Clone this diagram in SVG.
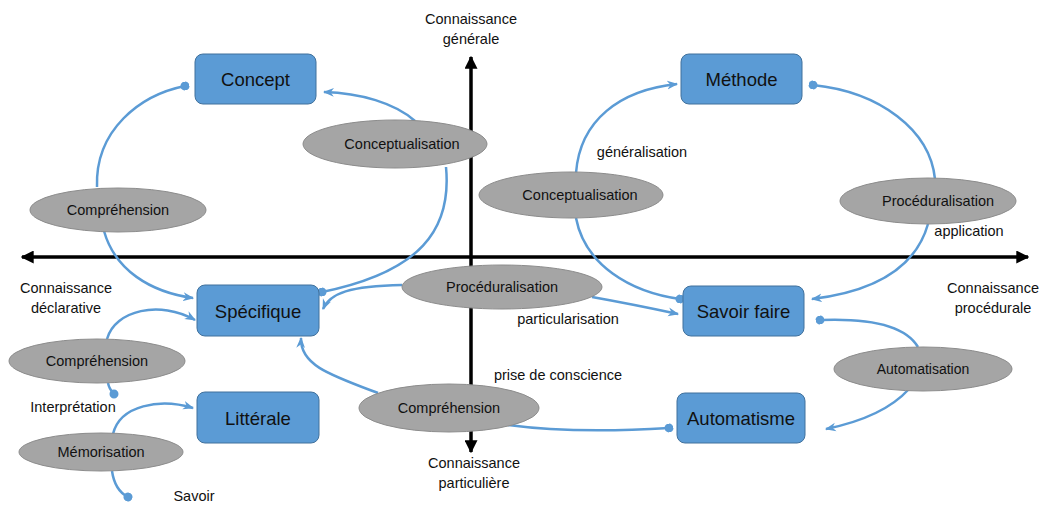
<svg xmlns="http://www.w3.org/2000/svg" width="1042" height="505" viewBox="0 0 1042 505">
<style>
.box{fill:#5B9BD5;stroke:#41719C;stroke-width:1}
.ell{fill:#A5A5A5;stroke:#8C8C8C;stroke-width:1}
.bt{font-family:"Liberation Sans",Arial,sans-serif;font-size:18.5px;fill:#111;text-anchor:middle}
.et{font-family:"Liberation Sans",Arial,sans-serif;font-size:14.5px;fill:#111;text-anchor:middle}
.lt{font-family:"Liberation Sans",Arial,sans-serif;font-size:14.5px;fill:#111;text-anchor:middle}
.c{fill:none;stroke:#5B9BD5;stroke-width:2.5}
.ax{stroke:#000;stroke-width:3.5;fill:none}
</style>
<defs>
<marker id="arr" viewBox="0 0 10 10" refX="9" refY="5" markerWidth="11" markerHeight="11" markerUnits="userSpaceOnUse" orient="auto">
<path d="M0,1 L10,5 L0,9 L3,5 z" fill="#5B9BD5"/>
</marker>
<marker id="dot" viewBox="0 0 10 10" refX="5" refY="5" markerWidth="9" markerHeight="9" markerUnits="userSpaceOnUse" orient="auto">
<circle cx="5" cy="5" r="5" fill="#5B9BD5"/>
</marker>
<marker id="axa" viewBox="0 0 10 10" refX="9" refY="5" markerWidth="13" markerHeight="13" markerUnits="userSpaceOnUse" orient="auto">
<path d="M0,0 L10,5 L0,10 z" fill="#000"/>
</marker>
</defs>
<rect width="1042" height="505" fill="#fff"/>
<g id="axes">
<line class="ax" x1="471" y1="257" x2="22" y2="257" marker-end="url(#axa)"/>
<line class="ax" x1="471" y1="257" x2="1028" y2="257" marker-end="url(#axa)"/>
<line class="ax" x1="471" y1="257" x2="471" y2="57" marker-end="url(#axa)"/>
<line class="ax" x1="471" y1="257" x2="471" y2="452" marker-end="url(#axa)"/>
</g>
<g id="connectors">
<path class="c" d="M97 187 C95 130 140 95 185 86" marker-end="url(#dot)"/>
<path class="c" d="M104 231 C115 270 150 292 193 298" marker-end="url(#arr)"/>
<path class="c" d="M415 121 C395 103 360 93 324 92" marker-end="url(#arr)"/>
<path class="c" d="M446 167 C452 230 420 272 322 292" marker-end="url(#dot)"/>
<path class="c" d="M402 285 C350 286 330 293 323 309" marker-end="url(#arr)"/>
<path class="c" d="M592 297 C620 302 650 308 678 314" marker-end="url(#arr)"/>
<path class="c" d="M576 173 C580 120 620 90 677 84" marker-end="url(#arr)"/>
<path class="c" d="M576 218 C585 265 630 292 680 299" marker-end="url(#dot)"/>
<path class="c" d="M935 179 C930 130 880 92 813 85" marker-end="url(#dot)"/>
<path class="c" d="M928 224 C915 270 870 292 812 299" marker-end="url(#arr)"/>
<path class="c" d="M918 347 C905 325 870 318 820 320" marker-end="url(#dot)"/>
<path class="c" d="M909 389 C890 410 860 422 826 429" marker-end="url(#arr)"/>
<path class="c" d="M378 393 C330 375 300 365 301 338" marker-end="url(#arr)"/>
<path class="c" d="M508 425 C560 432 620 431 669 428" marker-end="url(#dot)"/>
<path class="c" d="M107 339 C115 310 160 300 195 320" marker-end="url(#arr)"/>
<path class="c" d="M108 383 C109 388 111 391 114 394" marker-end="url(#dot)"/>
<path class="c" d="M113 434 C120 405 160 398 193 408" marker-end="url(#arr)"/>
<path class="c" d="M112 471 C114 485 120 493 128 497" marker-end="url(#dot)"/>
</g>
<g id="concept"><rect class="box" x="195" y="54" width="121" height="50" rx="8"/><text class="bt" x="255.5" y="86">Concept</text></g>
<g id="methode"><rect class="box" x="681" y="54" width="121" height="50" rx="8"/><text class="bt" x="741.5" y="86">Méthode</text></g>
<g id="specifique"><rect class="box" x="197" y="285" width="122" height="51" rx="8"/><text class="bt" x="258" y="317.5">Spécifique</text></g>
<g id="litterale"><rect class="box" x="197" y="392" width="122" height="51" rx="8"/><text class="bt" x="258" y="424.5">Littérale</text></g>
<g id="savoirfaire"><rect class="box" x="683" y="286" width="121" height="50" rx="8"/><text class="bt" x="743.5" y="318">Savoir faire</text></g>
<g id="automatisme"><rect class="box" x="677" y="393" width="128" height="50" rx="8"/><text class="bt" x="741" y="425">Automatisme</text></g>
<g id="comprehension1"><ellipse class="ell" cx="118" cy="210" rx="88" ry="22"/><text class="et" x="118" y="215">Compréhension</text></g>
<g id="conceptualisation1"><ellipse class="ell" cx="395" cy="144" rx="92" ry="24"/><text class="et" x="402" y="149">Conceptualisation</text></g>
<g id="conceptualisation2"><ellipse class="ell" cx="571" cy="195" rx="92" ry="23"/><text class="et" x="580" y="200">Conceptualisation</text></g>
<g id="proceduralisation1"><ellipse class="ell" cx="928" cy="201" rx="88" ry="23"/><text class="et" x="938" y="206">Procéduralisation</text></g>
<g id="proceduralisation2"><ellipse class="ell" cx="502" cy="287" rx="100" ry="22"/><text class="et" x="502" y="292">Procéduralisation</text></g>
<g id="comprehension2"><ellipse class="ell" cx="97" cy="361" rx="88" ry="22"/><text class="et" x="97" y="366">Compréhension</text></g>
<g id="memorisation"><ellipse class="ell" cx="101" cy="452" rx="82" ry="19"/><text class="et" x="101" y="457">Mémorisation</text></g>
<g id="comprehension3"><ellipse class="ell" cx="449" cy="408" rx="90" ry="24"/><text class="et" x="449" y="413">Compréhension</text></g>
<g id="automatisation"><ellipse class="ell" cx="923" cy="369" rx="89" ry="22"/><text class="et" x="923" y="374" style="font-size:14px">Automatisation</text></g>
<g id="labels">
<text class="lt" x="471" y="24">Connaissance</text>
<text class="lt" x="471" y="44">générale</text>
<text class="lt" x="474" y="468">Connaissance</text>
<text class="lt" x="474" y="488">particulière</text>
<text class="lt" x="66" y="293">Connaissance</text>
<text class="lt" x="66" y="313">déclarative</text>
<text class="lt" x="993" y="293">Connaissance</text>
<text class="lt" x="993" y="313">procédurale</text>
<text class="lt" x="73" y="412">Interprétation</text>
<text class="lt" x="194" y="501">Savoir</text>
<text class="lt" x="642" y="157">généralisation</text>
<text class="lt" x="969" y="236">application</text>
<text class="lt" x="568" y="324">particularisation</text>
<text class="lt" x="558" y="380">prise de conscience</text>
</g>
</svg>
